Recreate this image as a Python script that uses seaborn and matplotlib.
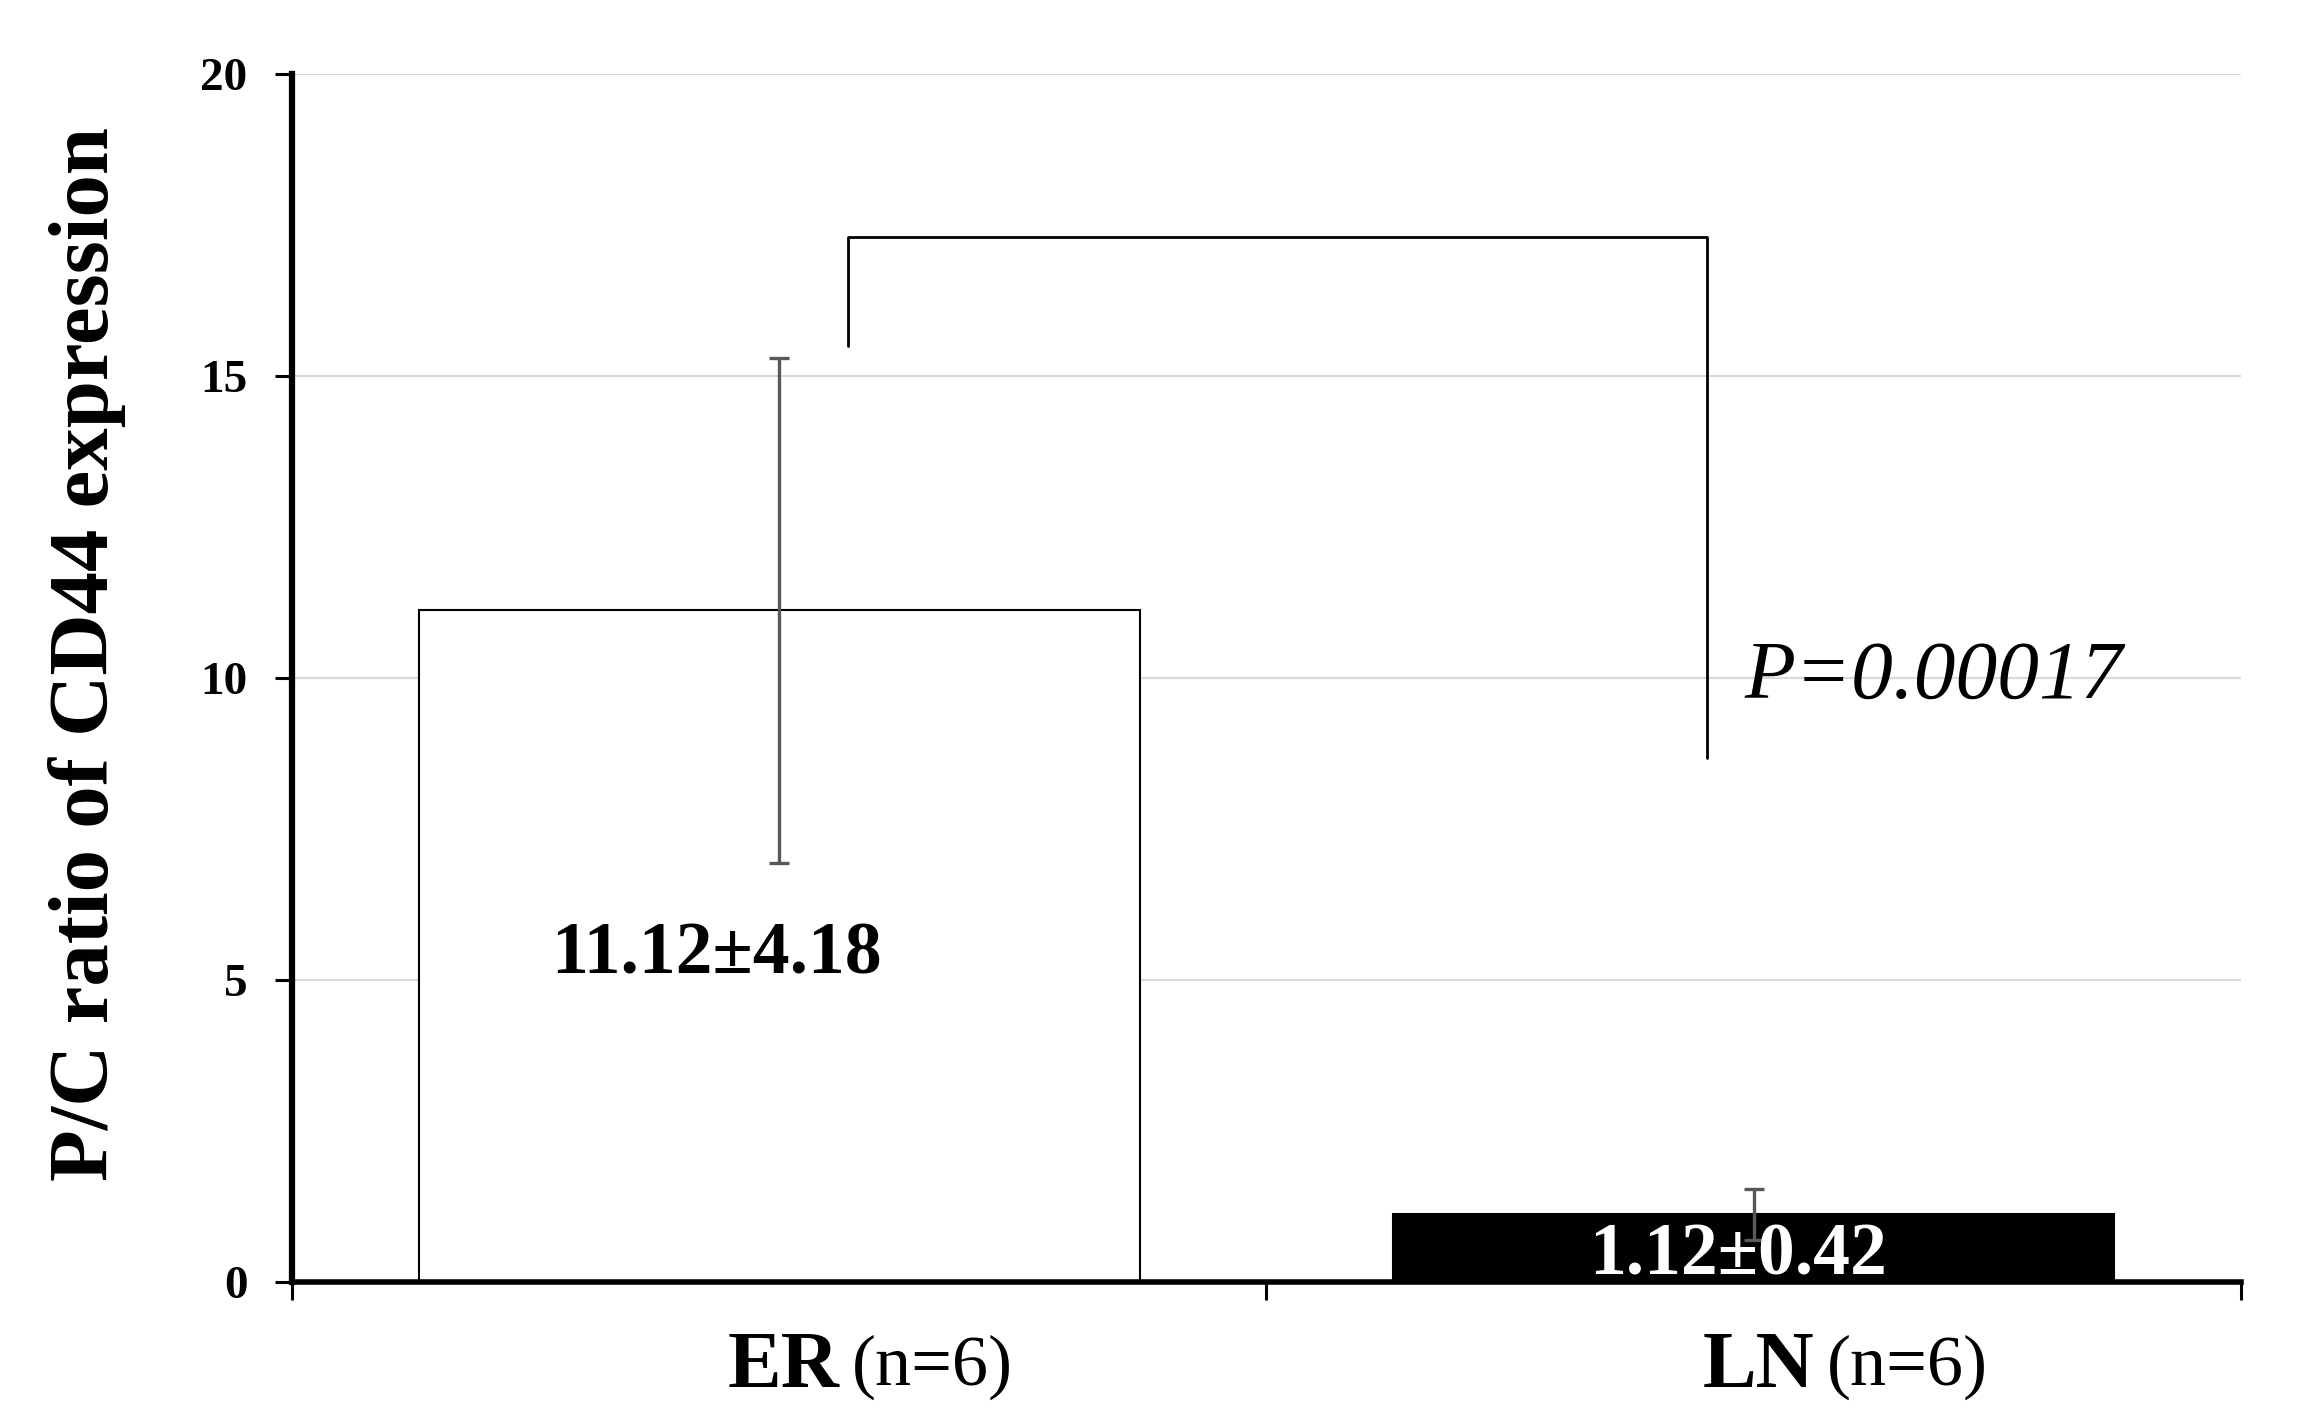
import matplotlib
matplotlib.use("Agg")
import matplotlib.pyplot as plt
import seaborn as sns
import pandas as pd

# data
groups = ["ER", "LN"]
group_n = ["(n=6)", "(n=6)"]
means = [11.12, 1.12]
sds = [4.18, 0.42]
bar_colors = ["white", "black"]
value_labels = ["11.12\u00b14.18", "1.12\u00b10.42"]
p_text = "P=0.00017"
y_ticks = [0, 5, 10, 15, 20]

sns.set_style("white")
plt.rcParams["font.family"] = ["Liberation Serif", "DejaVu Serif"]
plt.rcParams["text.color"] = "black"
plt.rcParams["axes.labelcolor"] = "black"
plt.rcParams["ytick.color"] = "black"
plt.rcParams["xtick.color"] = "black"

df = pd.DataFrame({"group": groups, "mean": means})

fig = plt.figure(figsize=(23.13, 14.23), dpi=100)
ax = fig.add_axes([0.1262, 0.0991, 0.8427, 0.8489])

sns.barplot(data=df, x="group", y="mean", hue="group", palette=bar_colors,
            width=0.74, edgecolor="black", linewidth=1.5, errorbar=None,
            legend=False, ax=ax, zorder=2)

ax.errorbar(range(len(groups)), means, yerr=sds, fmt="none", ecolor="#595959",
            elinewidth=2.4, capsize=7, capthick=2.4, zorder=3)

# values inside bars
ax.text(-0.064, 5.4, value_labels[0], ha="center", va="center",
        fontsize=53, fontweight="bold", color="black", zorder=4)
ax.text(0.984, 0.42, value_labels[1], ha="center", va="center",
        fontsize=53, fontweight="bold", color="white", zorder=4)

# significance bracket
ax.plot([0.071, 0.071, 0.952, 0.952], [15.5, 17.3, 17.3, 8.67],
        color="black", lw=2, zorder=3)
ax.text(0.99, 10.0, p_text, ha="left", va="center", fontsize=60,
        fontstyle="italic", zorder=4)

ax.set_xlim(-0.5, 1.5)
ax.set_ylim(0, 20)
ax.set_yticks(y_ticks)
ax.set_yticklabels([str(t) for t in y_ticks], fontsize=34, fontweight="bold")
ax.set_xticks([-0.5, 0.5, 1.5])
ax.set_xticklabels([])
ax.tick_params(axis="y", length=12, width=2.2, pad=20, direction="out", left=True)
ax.tick_params(axis="x", length=13, width=2.2, direction="out", bottom=True)

ax.yaxis.grid(True, color="#d9d9d9", lw=1.5)
ax.set_axisbelow(True)
sns.despine(ax=ax)
ax.spines["left"].set_linewidth(4.5)
ax.spines["bottom"].set_linewidth(4)
ax.spines["left"].set_color("black")
ax.spines["bottom"].set_color("black")

ax.set_xlabel("")
ax.set_ylabel("P/C ratio of CD44 expression", fontsize=61, fontweight="bold")
ax.yaxis.set_label_coords(-0.085, 0.52)

# category labels: bold name, plain sample size
for i, (g, n) in enumerate(zip(groups, group_n)):
    ax.text(i + 0.062, -1.42, g, ha="right", va="center", fontsize=58,
            fontweight="bold", clip_on=False)
    ax.text(i + 0.075, -1.42, n, ha="left", va="center", fontsize=52,
            clip_on=False)

fig.savefig("out.png", dpi=100)
